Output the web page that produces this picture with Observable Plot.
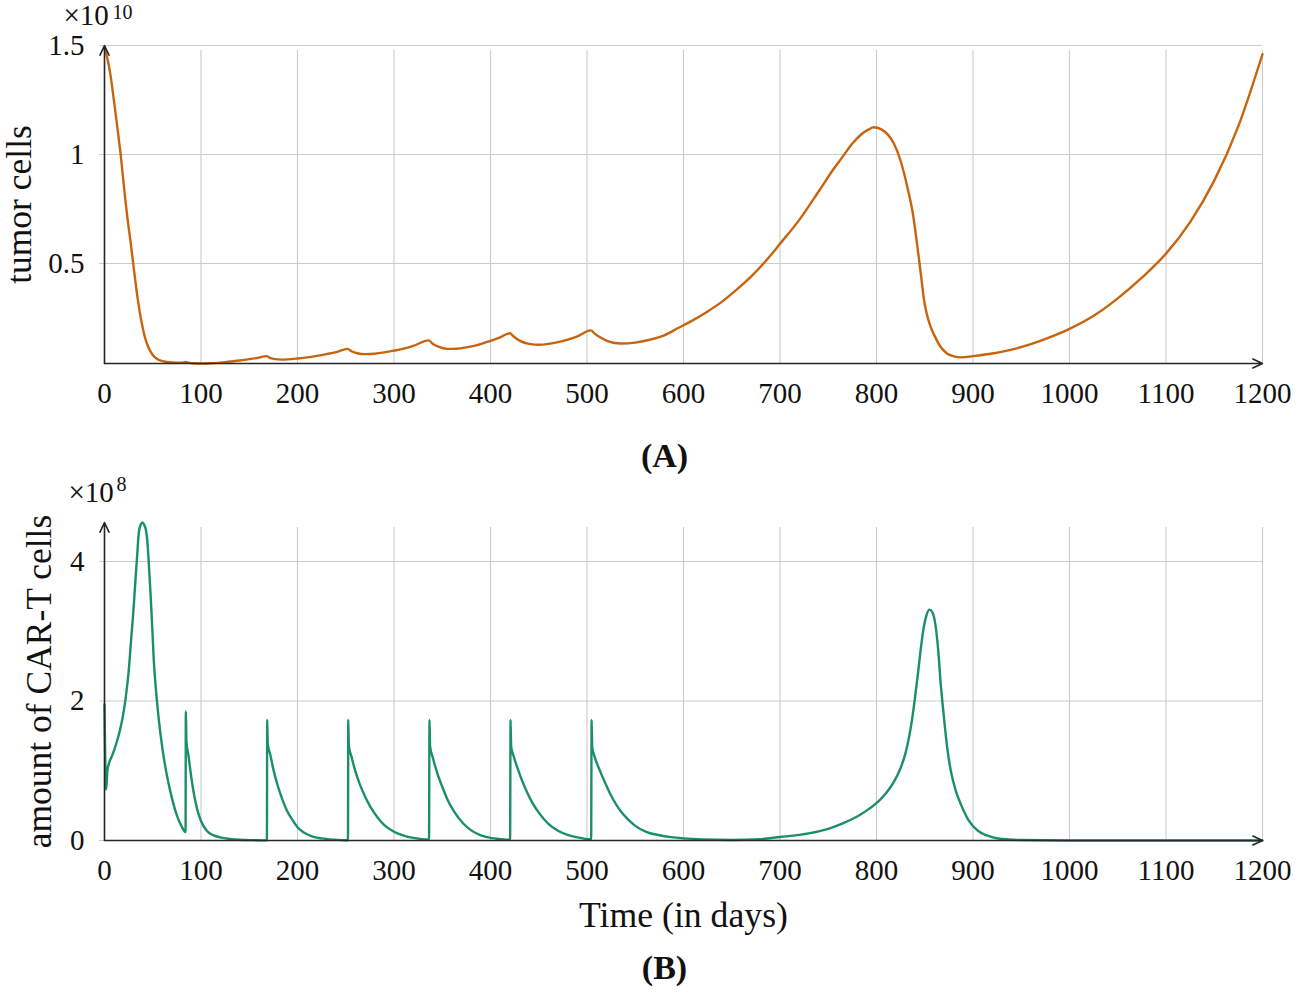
<!DOCTYPE html>
<html><head><meta charset="utf-8">
<script src="https://cdn.jsdelivr.net/npm/d3@7"></script>
<script src="https://cdn.jsdelivr.net/npm/@observablehq/plot@0.6"></script>
<style>
body{margin:0;background:#fff;}
#wrap{position:relative;width:1299px;height:996px;overflow:hidden;}
#wrap svg{position:absolute;left:0;overflow:visible;}
</style></head><body><div id="wrap"></div>
<script>
// ---- data (tumor cells in units of 1e10, CAR-T cells in units of 1e8) ----
const tumorDays = [0,3,6,10,14,17,20,24,27,30,34,38,42,45,50,55,60,70,80,84,87,92,100,110,120,130,140,150,160,168,172,177,183,190,200,210,220,230,240,252,256,262,270,280,290,300,310,320,336,340,346,355,365,375,385,400,410,420,424,430,440,450,460,470,480,490,504,508,514,522,535,550,565,580,595,610,625,640,655,670,685,700,720,740,755,765,775,785,792,797,805,812,818,825,832,838,842,846,849,852,856,860,866,873,880,888,900,920,940,960,980,1000,1025,1050,1075,1100,1125,1150,1175,1200];
const tumorCells = [1.49,1.44,1.37,1.24,1.10,0.99,0.86,0.70,0.60,0.49,0.35,0.24,0.16,0.12,0.08,0.06,0.052,0.046,0.045,0.048,0.045,0.042,0.041,0.042,0.045,0.05,0.055,0.061,0.068,0.075,0.066,0.061,0.059,0.06,0.064,0.069,0.076,0.084,0.093,0.108,0.097,0.088,0.084,0.086,0.092,0.1,0.109,0.122,0.147,0.132,0.118,0.108,0.109,0.115,0.124,0.145,0.161,0.18,0.165,0.146,0.131,0.127,0.131,0.139,0.151,0.166,0.193,0.178,0.16,0.143,0.133,0.137,0.15,0.17,0.205,0.24,0.28,0.325,0.38,0.44,0.51,0.59,0.70,0.83,0.93,0.99,1.05,1.095,1.115,1.125,1.115,1.09,1.05,0.97,0.85,0.72,0.59,0.45,0.34,0.27,0.21,0.17,0.12,0.087,0.074,0.069,0.075,0.087,0.105,0.13,0.162,0.2,0.26,0.34,0.435,0.545,0.69,0.88,1.13,1.46];

const cartDays = [0,1.7,3,4.5,8,12,16,19,22,25,28,30,32,34,35.6,37.5,39.4,41,43,44.5,46,47.7,49.5,51,53.5,56,60,65,70,75,80,84,84.3,84.9,87,89,92.5,96,100,106,112,120,130,140,155,168.3,
168.6,169.2,172,175,179,184,189,195,200,207,215,225,238,252.3,
252.6,253.2,256,260,265,270,276,283,290,300,310,320,336.3,
336.8,337.4,340,345,350,355,362,372,380,390,400,410,420.3,
420.8,421.4,424,430,436,443,450,460,470,480,490,504.3,
504.8,505.4,508,514,519,524,530,536,542,550,562,575,587,600,620,650,680,700,720,740,753,765,780,792,802,810,818,825,830,834,837,840,843,846,849,852,855,858,861,864,866.3,870,873,877,882,888,895,905,915,928,950,1000,1100,1200];
const cartCells = [1.95,0.73,1.0,1.10,1.22,1.38,1.58,1.78,2.05,2.42,2.95,3.3,3.72,4.12,4.42,4.53,4.56,4.53,4.45,4.28,3.95,3.54,3.05,2.6,2.13,1.77,1.32,0.91,0.6,0.36,0.2,0.12,1.85,1.42,1.22,1.0,0.68,0.45,0.28,0.14,0.08,0.045,0.022,0.011,0.005,0.002,
1.73,1.38,1.22,1.02,0.81,0.6,0.43,0.29,0.19,0.11,0.06,0.03,0.012,0.004,
1.73,1.36,1.2,0.99,0.79,0.63,0.47,0.33,0.22,0.125,0.07,0.037,0.012,
1.73,1.35,1.2,0.96,0.77,0.6,0.42,0.24,0.145,0.075,0.038,0.02,0.01,
1.73,1.35,1.21,0.96,0.75,0.55,0.4,0.24,0.14,0.08,0.045,0.018,
1.73,1.34,1.2,0.98,0.82,0.67,0.52,0.4,0.31,0.21,0.12,0.075,0.048,0.03,0.015,0.008,0.02,0.05,0.08,0.13,0.18,0.245,0.345,0.45,0.56,0.68,0.84,1.04,1.25,1.5,1.75,2.06,2.4,2.76,3.06,3.24,3.31,3.27,3.1,2.72,2.29,1.75,1.36,1.0,0.72,0.5,0.3,0.14,0.07,0.025,0.007,0.001,0,0];

const xTicks = [0,100,200,300,400,500,600,700,800,900,1000,1100,1200];
const tumorTicks = [0.5,1,1.5];
const cartTicks = [0,2,4];
const xDomain = [0,1200];
const tumorDomain = [0.041,1.5];
const cartDomain = [0,4.56];

const tumor = tumorDays.map((d,i)=>({day:d, v:tumorCells[i]}));
const cart = cartDays.map((d,i)=>({day:d, v:cartCells[i]}));

const FONT = "Liberation Serif, Times New Roman, serif";
const GRID = "#cbcbcb";
const AXIS = "#262626";

function panel({data, yDomain, yTicks, color, height, marginTop, marginBottom, ylabel, ylabelDx, expText, expDx, expDy, supText, supDx, supDy, cap, capDy, xlabel}) {
  const axes = [
    {x1:xDomain[0], y1:yDomain[0], x2:xDomain[0], y2:yDomain[1]},
    {x1:xDomain[0], y1:yDomain[0], x2:xDomain[1], y2:yDomain[0]}
  ];
  const marks = [
    Plot.ruleY(yTicks, {y:d=>d, x1:xDomain[0], x2:xDomain[1], stroke:GRID, strokeWidth:1.1, insetLeft:-5}),
    Plot.ruleX(xTicks, {x:d=>d, y1:yDomain[0], y2:yDomain[1], stroke:GRID, strokeWidth:1.1, insetBottom:-5}),
    Plot.line(data, {x:"day", y:"v", stroke:color, strokeWidth:2.4, curve:"monotone-x"}),
    Plot.arrow(axes, {x1:"x1", y1:"y1", x2:"x2", y2:"y2", stroke:AXIS, strokeWidth:1.6, headLength:10, headAngle:50}),
    Plot.axisX(xTicks, {tickSize:0, tickPadding:19, fontSize:29, label:null, tickFormat:d=>String(d), fontVariant:"normal"}),
    Plot.axisY(yTicks, {tickSize:0, tickPadding:20, fontSize:29, label:null, tickFormat:d=>String(d), fontVariant:"normal"}),
    Plot.text([ylabel], {text:d=>d, frameAnchor:"left", textAnchor:"middle", lineAnchor:"middle", dx:ylabelDx, rotate:-90, fontSize:35.5}),
    Plot.text([expText], {text:d=>d, frameAnchor:"top-left", textAnchor:"start", lineAnchor:"middle", dx:expDx, dy:expDy, fontSize:29}),
    Plot.text([supText], {text:d=>d, frameAnchor:"top-left", textAnchor:"start", lineAnchor:"middle", dx:supDx, dy:supDy, fontSize:20}),
    Plot.text([cap], {text:d=>d, frameAnchor:"bottom", textAnchor:"middle", lineAnchor:"middle", dx:-19, dy:capDy, fontSize:34, fontWeight:"bold"})
  ];
  if (xlabel) marks.push(Plot.text([xlabel], {text:d=>d, frameAnchor:"bottom", textAnchor:"middle", lineAnchor:"middle", dy:74.6, fontSize:35.7}));
  return Plot.plot({
    width:1299, height, marginLeft:104, marginRight:37, marginTop, marginBottom,
    x:{domain:xDomain}, y:{domain:yDomain},
    style:{fontFamily:FONT, fontSize:"29px", color:"#111", background:"transparent", overflow:"visible"},
    marks
  });
}

const A = panel({data:tumor, yDomain:tumorDomain, yTicks:tumorTicks, color:"#c8630e",
  height:470, marginTop:45, marginBottom:107, ylabel:"tumor cells", ylabelDx:-85,
  expText:"×10", expDx:-41, expDy:-29.5, supText:"10", supDx:8, supDy:-33,
  cap:"(A)", capDy:93});
const B = panel({data:cart, yDomain:cartDomain, yTicks:cartTicks, color:"#1b8e6b",
  height:526, marginTop:52, marginBottom:156, ylabel:"amount of CAR-T cells", ylabelDx:-65,
  expText:"×10", expDx:-36, expDy:-29.3, supText:"8", supDx:12, supDy:-38.4,
  cap:"(B)", capDy:128, xlabel:"Time (in days)"});
A.style.top = "0px";
B.style.top = "470px";
const wrap = document.getElementById("wrap");
wrap.appendChild(A);
wrap.appendChild(B);
</script></body></html>
